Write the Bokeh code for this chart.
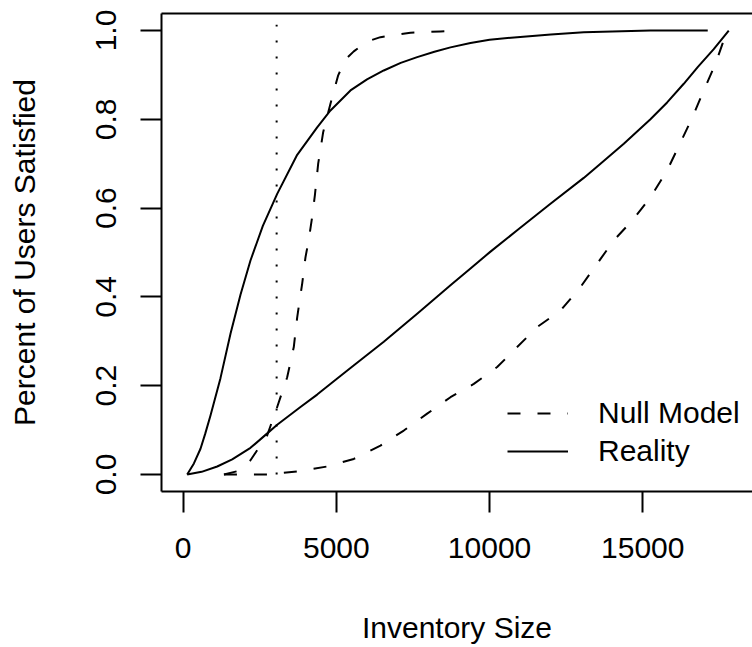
from bokeh.plotting import figure
from bokeh.models import Range1d, FixedTicker, LinearAxis, Legend, LegendItem
from bokeh.embed import file_html
from bokeh.resources import INLINE

# ---------------- data ----------------
reality_steep_x = [130, 350, 565, 720, 891, 1217, 1544, 1870, 2196, 2600, 3068, 3721,
                   4373, 4807, 5460, 6000, 6547, 7100, 7637, 8200, 8724, 9377, 10000,
                   10901, 12000, 13074, 14000, 15251, 17121]
reality_steep_y = [0.0, 0.025, 0.058, 0.092, 0.133, 0.217, 0.317, 0.405, 0.482, 0.560,
                   0.632, 0.720, 0.782, 0.820, 0.865, 0.890, 0.910, 0.927, 0.940, 0.952,
                   0.962, 0.972, 0.979, 0.985, 0.991, 0.996, 0.998, 1.0, 1.0]

reality_linear_x = [130, 600, 1110, 1600, 2196, 2650, 3068, 3828, 4373, 4915, 5460, 6547,
                    7637, 8724, 9377, 10030, 10901, 11988, 13074, 13620, 14381, 15251,
                    15796, 16338, 16800, 17317, 17807]
reality_linear_y = [0.0, 0.006, 0.018, 0.034, 0.060, 0.087, 0.112, 0.152, 0.180, 0.210,
                    0.240, 0.299, 0.362, 0.426, 0.464, 0.502, 0.550, 0.610, 0.668, 0.700,
                    0.745, 0.800, 0.838, 0.880, 0.918, 0.958, 1.0]

null_steep_x = [1330, 1800, 2196, 2741, 3068, 3394, 3610, 3721, 3884, 3991, 4100, 4210,
                4300, 4406, 4569, 4807, 5059, 5300, 5568, 6000, 6439, 7418, 8397, 8950]
null_steep_y = [0.0, 0.008, 0.032, 0.088, 0.152, 0.219, 0.287, 0.354, 0.430, 0.489,
                0.530, 0.580, 0.630, 0.700, 0.771, 0.835, 0.899, 0.935, 0.953, 0.975,
                0.985, 0.995, 0.998, 1.0]

null_convex_x = [1330, 2741, 3721, 4700, 5568, 6439, 7200, 7963, 8724, 9485, 10248,
                 10901, 11553, 12314, 12967, 13512, 14053, 14706, 15251, 15796, 16200,
                 16612, 16991, 17373, 17754]
null_convex_y = [0.0, 0.0, 0.007, 0.018, 0.035, 0.065, 0.099, 0.137, 0.174, 0.204,
                 0.242, 0.287, 0.332, 0.369, 0.422, 0.475, 0.527, 0.576, 0.624, 0.685,
                 0.743, 0.803, 0.865, 0.925, 1.0]

threshold_x = [3050, 3050]
threshold_y = [0.0, 1.013]

x_ticks = [0, 5000, 10000, 15000]
x_tick_labels = ["0", "5000", "10000", "15000"]
y_ticks = [0.0, 0.2, 0.4, 0.6, 0.8, 1.0]
y_tick_labels = ["0.0", "0.2", "0.4", "0.6", "0.8", "1.0"]

x_title = "Inventory Size"
y_title = "Percent of Users Satisfied"
legend_labels = ["Null Model", "Reality"]

# ---------------- figure ----------------
FONT = "Liberation Sans"
FS = "30px"

p = figure(width=752, height=647, output_backend="svg", toolbar_location=None,
           x_range=Range1d(-708, 18582), y_range=Range1d(-0.0383, 1.0383),
           min_border_left=161, min_border_right=0, min_border_top=13,
           min_border_bottom=156)
p.outline_line_color = None
p.grid.visible = False
p.background_fill_color = "white"
p.border_fill_color = "white"

for ax in (p.xaxis[0], p.yaxis[0]):
    ax.major_tick_in = 0
    ax.major_tick_out = 21
    ax.minor_tick_in = 0
    ax.minor_tick_out = 0
    ax.major_tick_line_width = 2
    ax.major_tick_line_color = "black"
    ax.axis_line_width = 2
    ax.axis_line_color = "black"
    ax.major_label_text_font = FONT
    ax.major_label_text_font_size = FS
    ax.major_label_text_color = "black"
    ax.axis_label_text_font = FONT
    ax.axis_label_text_font_size = FS
    ax.axis_label_text_font_style = "normal"
    ax.axis_label_text_color = "black"

xa = p.xaxis[0]
xa.ticker = FixedTicker(ticks=x_ticks)
xa.major_label_overrides = dict(zip(x_ticks, x_tick_labels))
xa.major_label_standoff = 25
xa.axis_label = x_title
xa.axis_label_standoff = 50

ya = p.yaxis[0]
ya.ticker = FixedTicker(ticks=y_ticks)
ya.major_label_overrides = dict(zip(y_ticks, y_tick_labels))
ya.major_label_orientation = "vertical"
ya.major_label_standoff = 24
ya.axis_label = y_title
ya.axis_label_standoff = 53

top = LinearAxis(ticker=FixedTicker(ticks=[]), major_tick_out=0, major_tick_in=0,
                 minor_tick_out=0, minor_tick_in=0, major_label_text_font_size="0px",
                 major_label_standoff=0, axis_line_width=2, axis_line_color="black")
p.add_layout(top, "above")

DASH = "13 17"
r_null_a = p.line(null_steep_x, null_steep_y, line_color="black", line_width=2,
                  line_dash=DASH, line_join="round")
r_null_b = p.line(null_convex_x, null_convex_y, line_color="black", line_width=2,
                  line_dash=DASH, line_join="round")
r_real_a = p.line(reality_steep_x, reality_steep_y, line_color="black", line_width=2,
                  line_join="round")
r_real_b = p.line(reality_linear_x, reality_linear_y, line_color="black", line_width=2,
                  line_join="round")
p.line(threshold_x, threshold_y, line_color="black", line_width=2, line_dash="2 14")

legend = Legend(items=[LegendItem(label=legend_labels[0], renderers=[r_null_a]),
                       LegendItem(label=legend_labels[1], renderers=[r_real_a])],
                location=(346, 21), glyph_width=61, glyph_height=38, label_height=38,
                label_standoff=30, spacing=0, padding=0, margin=0,
                border_line_color=None, background_fill_alpha=0,
                label_text_font=FONT, label_text_font_size=FS,
                label_text_color="black")
p.add_layout(legend)

open("out.html", "w").write(file_html(p, INLINE))
